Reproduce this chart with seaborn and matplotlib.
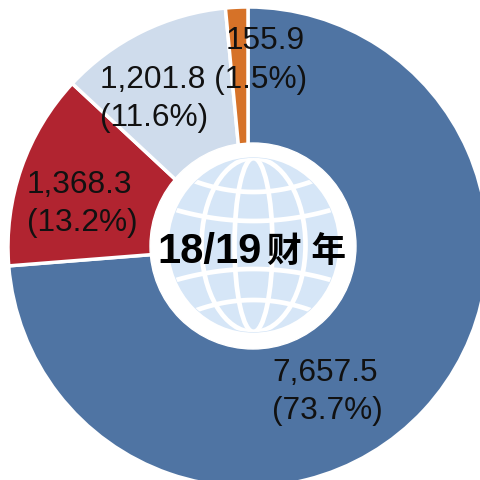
import matplotlib.pyplot as plt
import numpy as np
import seaborn as sns
from matplotlib.patches import Circle, Ellipse

# FY18/19 values, clockwise from the top
values = [7657.5, 1368.3, 1201.8, 155.9]
colors = ['#4F74A3', '#B12430', '#CFDCEC', '#D67228']
labels = ['7,657.5\n(73.7%)', '1,368.3\n(13.2%)', '1,201.8 (1.5%)\n(11.6%)', '155.9']
center_num = '18/19'
center_cn = '财年'
top_text = '(百万美元)'

sns.set_theme(style='white')
plt.rcParams['font.family'] = ['Liberation Sans', 'Noto Sans CJK SC']

fig = plt.figure(figsize=(4.81, 4.81), dpi=100)
ax = fig.add_axes([0, 0, 1, 1])

# y axis is flipped below, so -90 is the top and counterclock runs clockwise on screen
ax.pie(values, colors=colors, startangle=-90, counterclock=True, center=(248, 248), radius=240,
       wedgeprops={'edgecolor': 'white', 'linewidth': 2.5}, frame=True)
ax.set_xlim(0, 481)
ax.set_ylim(481, 0)
ax.set_aspect('equal')
ax.axis('off')

ax.add_patch(Circle((253, 247), 103, color='white', zorder=3))

# globe
gx, gy, grx, gry = 253.5, 246, 84, 87
globe = Ellipse((gx, gy), 2 * grx, 2 * gry, color='#D6E6F7', zorder=4)
ax.add_patch(globe)
for w in [38, 104]:
    e = Ellipse((gx, gy), w, 2 * gry, fill=False, edgecolor='white', lw=3.4, zorder=5)
    ax.add_patch(e)
    e.set_clip_path(globe)
xs = np.linspace(gx - grx, gx + grx, 100)
for off, bend in [(-53, -22), (-24, -13), (24, 13), (55, 22)]:
    ys = gy + off + bend * ((xs - gx) / grx) ** 2
    ln = ax.plot(xs, ys, color='white', lw=3.4, zorder=5)[0]
    ln.set_clip_path(globe)

ax.text(210, 252, center_num, fontsize=30, fontweight='bold', ha='center', va='center', color='black', zorder=6)
ax.text(307, 253, center_cn[0] + ' ' + center_cn[1], fontsize=25, fontweight='bold', ha='center', va='center',
        color='black', zorder=6)

# value labels
lab = {'fontsize': 22.8, 'ha': 'left', 'va': 'center', 'color': '#111111', 'zorder': 6, 'linespacing': 1.37}
ax.text(272, 392, labels[0], **lab)
ax.text(27, 204, labels[1], **lab)
ax.text(100, 99, labels[2], **lab)
ax.text(226, 41, labels[3], **lab)
ax.text(113, -18, top_text, fontsize=22.8, ha='center', va='center', color='#111111', clip_on=False)

fig.savefig('out.png', dpi=100, facecolor='white')
